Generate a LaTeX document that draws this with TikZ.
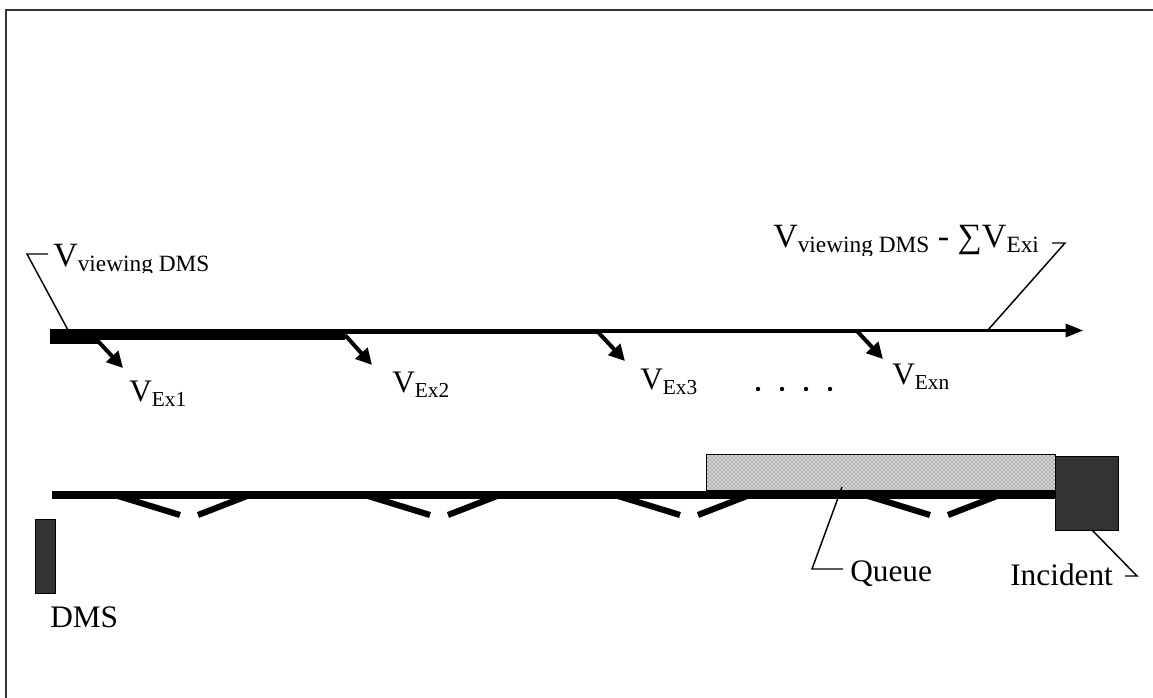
\documentclass[tikz,border=0pt]{standalone}
\usepackage{fontspec}
\setmainfont{Liberation Serif}
\usetikzlibrary{arrows.meta,patterns}
\definecolor{darkblock}{HTML}{333333}
\newcommand{\mainsize}{\fontsize{23.5}{28}\selectfont}
\newcommand{\subsize}{\fontsize{16}{19}\selectfont}
\newcommand{\bigsub}{\fontsize{17.5}{20}\selectfont}
\newcommand{\vsub}[1]{V\raisebox{-3.5pt}{\subsize #1}}
\newcommand{\vbigsub}[1]{V\raisebox{-3.5pt}{\bigsub #1}}
\begin{document}
\begin{tikzpicture}[x=0.75pt,y=-0.75pt,
  lbl/.style={font=\mainsize, inner sep=0pt, anchor=base west},
  toplbl/.style={font=\fontsize{25.5}{30}\selectfont, inner sep=0pt, anchor=base west},
  exitarrow/.style={line width=3pt, -{Triangle[length=12pt,width=12pt]}},
  leader/.style={line width=1.1pt},
  ramp/.style={line width=4.6pt},
  road/.style={line width=6pt},
  block/.style={draw=black, line width=1pt, fill=darkblock, inner sep=0pt, anchor=north west},
  queuebox/.style={draw=black, line width=0.8pt, preaction={fill=gray!32},
    pattern=crosshatch dots, pattern color=black!80, inner sep=0pt, anchor=north west}]
\useasboundingbox (0,0) rectangle (1153,698);

% page frame
\draw[line width=1.2pt, black!80] (6,698) -- (6,10) -- (1153,10);

% traffic stream, thinning after each exit
\fill (50,329) rectangle (100,344);
\fill (100,329) rectangle (345,340);
\fill (345,329) rectangle (600,334.5);
\fill (600,329) rectangle (857,333);
\coordinate (s4) at (857,330.5);
\coordinate (send) at (1083,330.5);
\draw[line width=1.6pt, -{Triangle[length=13pt,width=10pt]}] (s4) -- (send);

% exiting volumes
\coordinate (x1) at (97,340);  \coordinate (t1) at (123,368);
\coordinate (x2) at (345,335); \coordinate (t2) at (372,365);
\coordinate (x3) at (598,332); \coordinate (t3) at (625,361);
\coordinate (x4) at (857,331); \coordinate (t4) at (883,359);
\foreach \i in {1,...,4} \draw[exitarrow] (x\i) -- (t\i);

\node[lbl] (l1) at (129,402) {\vsub{Ex1}};
\node[lbl] (l2) at (392,393) {\vsub{Ex2}};
\node[lbl] (l3) at (640,390) {\vsub{Ex3}};
\node[lbl] (l4) at (892,385) {\vsub{Exn}};
\foreach \xx in {758,782,806,830} \fill (\xx,389) circle (2.2);

% stream labels (text boxes cut off below)
\begin{scope}
  \clip (0,0) rectangle (400,273);
  \node[toplbl] (vin) at (53,267) {\vbigsub{viewing DMS}};
\end{scope}
\begin{scope}
  \clip (700,0) rectangle (1153,256);
  \node[toplbl] (vout) at (773,248) {\vbigsub{viewing DMS} - ∑\vbigsub{Exi}};
\end{scope}
\coordinate (vinA) at (68,330); \coordinate (vinB) at (27,254); \coordinate (vinC) at (48,254);
\draw[leader] (vinA) -- (vinB) -- (vinC);
\coordinate (voutA) at (988,330); \coordinate (voutB) at (1065,243); \coordinate (voutC) at (1052,243);
\draw[leader] (voutA) -- (voutB) -- (voutC);

% freeway with ramps
\coordinate (r0) at (52,494.5); \coordinate (r1) at (1055,494.5);
\draw[road] (r0) -- (r1);
\foreach \k in {0,...,3} {
  \pgfmathsetmacro{\xo}{118+250*\k}
  \draw[ramp] (\xo,496) -- (\xo+62,515);
  \draw[ramp] (\xo+80,515) -- (\xo+129,496);
}

% queue, incident and sign
\node[queuebox, minimum width=261.75pt, minimum height=27.2pt] (queue) at (706,454) {};
\node[block, minimum width=47.25pt, minimum height=55.5pt] (inc) at (1055,456) {};
\node[block, minimum width=15pt, minimum height=55.5pt] (dms) at (35,519) {};

\node[lbl] (qlab) at (850,581) {Queue};
\node[lbl] (ilab) at (1010,585) {Incident};
\node[lbl] (dlab) at (50,627) {DMS};

\coordinate (qA) at (842,487); \coordinate (qB) at (812,569); \coordinate (qC) at (843,569);
\draw[leader] (qA) -- (qB) -- (qC);
\coordinate (iA) at (1092,530); \coordinate (iB) at (1137,576); \coordinate (iC) at (1125,576);
\draw[leader] (iA) -- (iB) -- (iC);
\end{tikzpicture}
\end{document}
